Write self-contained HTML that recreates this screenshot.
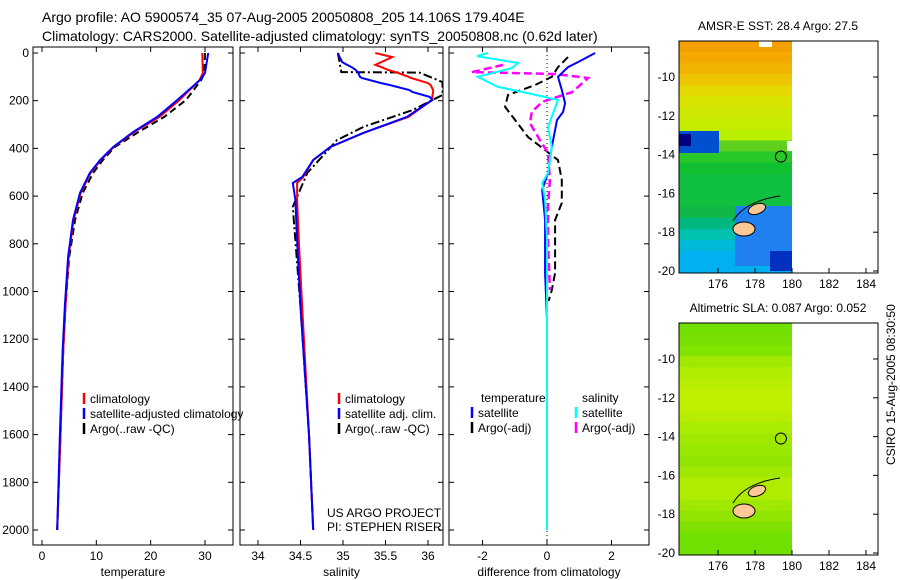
<!DOCTYPE html>
<html><head><meta charset="utf-8"><style>
body{margin:0;background:#fff}
svg{display:block;font-family:"Liberation Sans",sans-serif}
</style></head><body>
<svg id="c" width="900" height="580" xmlns="http://www.w3.org/2000/svg">
<rect width="900" height="580" fill="#fff"/>
<text x="42" y="22" font-size="14">Argo profile: AO 5900574_35 07-Aug-2005 20050808_205 14.106S 179.404E</text>
<text x="42" y="41" font-size="14">Climatology: CARS2000. Satellite-adjusted climatology: synTS_20050808.nc (0.62d later)</text>
<g id="panels"></g>
<g id="maps"></g>
<text transform="translate(895,465) rotate(-90)" font-size="12">CSIRO 15-Aug-2005 08:30:50</text>
</svg>
<script>
const NS="http://www.w3.org/2000/svg";
const depthTicks=[0,200,400,600,800,1000,1200,1400,1600,1800,2000];
const tempTicks=[0,10,20,30];
const salTicks=[34,34.5,35,35.5,36];
const diffTicks=[-2,0,2];
// temperature profiles: depth, value
const tDepth=[0,84,113,197,268,331,394,449,503,587,700,855,1065,1250,1600,2000];
const tClim=[29.5,29.6,29.0,25.3,21.6,17.0,13.2,10.8,8.9,7.1,5.8,4.9,4.3,3.9,3.4,2.8];
const tSat=[30.6,30.0,29.1,24.9,21.2,16.8,13.1,10.7,8.8,7.0,5.7,4.8,4.2,3.8,3.3,2.8];
const tArgo=[30.0,29.9,29.3,26.5,22.5,17.8,13.4,11.2,9.4,7.5,6.1,5.0,4.3,3.9,3.4,2.8];
const sDepth=[0,17,38,50,59,71,84,100,105,126,134,155,164,184,197,268,335,394,449,520,545,616,784,1065,1600,2000];
const sClim=[35.38,35.58,35.45,35.38,35.45,35.53,35.65,35.77,35.8,36.0,36.03,36.06,36.06,36.05,36.05,35.77,35.24,34.85,34.65,34.53,34.46,34.46,34.48,34.52,34.6,34.65];
const sSat=[34.94,34.96,34.99,35.05,35.1,35.15,35.18,35.2,35.22,35.45,35.55,35.78,35.82,36.02,36.05,35.75,35.24,34.85,34.65,34.52,34.41,34.44,34.46,34.5,34.6,34.65];
const sArgoDepth=[0,80,82,122,176,239,310,365,503,645,1065,1600,2000];
const sArgo=[34.94,34.98,35.9,36.17,36.17,35.82,35.24,34.93,34.58,34.41,34.5,34.6,34.65];
const dTSatDepth=[0,38,59,100,155,210,247,281,394,503,574,700,922,1119,1500,2000];
const dTSat=[1.49,0.96,0.65,0.34,0.46,0.56,0.5,0.31,0.15,0.03,-0.15,-0.06,-0.06,0,0,0];
const dSSatDepth=[0,13,42,63,100,142,168,197,252,310,394,503,545,616,784,1200,2000];
const dSSat=[-1.83,-2.17,-0.9,-1.09,-2.15,-1.52,-0.59,0.34,0.19,0.03,0.15,0.03,-0.15,-0.06,0,0,0];
const dSArgoDepth=[50,80,88,105,164,205,247,294,365,419,532,645,784,994];
const dSArgo=[-1.36,-2.33,0.25,1.27,0.78,-0.15,-0.47,-0.53,-0.22,0.03,0.09,0.03,0.03,0.09];
const dTArgoDepth=[17,59,100,134,176,226,281,352,407,449,532,629,700,922,994,1040];
const dTArgo=[0.65,0.34,0.15,-0.37,-1.21,-1.3,-0.99,-0.59,-0.06,0.34,0.46,0.46,0.25,0.25,0.15,0.05];

const yD=d=>53+d*0.2385;
function el(tag,attrs,parent){const e=document.createElementNS(NS,tag);for(const k in attrs)e.setAttribute(k,attrs[k]);parent.appendChild(e);return e;}
const P=document.getElementById('panels');
function panel(name,x0,x1,xs,xticks,xlabel,showY){
  const g=el('g',{},P);
  
  
  const fr=el('rect',{x:x0,y:47,width:x1-x0,height:498,fill:'none',stroke:'#000','stroke-width':1},g);
  
  
  depthTicks.forEach(d=>{
    el('line',{x1:x0,x2:x0+5,y1:yD(d),y2:yD(d),stroke:'#000'},g);
    el('line',{x1:x1-5,x2:x1,y1:yD(d),y2:yD(d),stroke:'#000'},g);
    if(showY){const t=el('text',{x:x0-4,y:yD(d)+4,'font-size':12,'text-anchor':'end'},g);t.textContent=d;
      
      }
  });
  xticks.forEach(v=>{
    el('line',{x1:xs(v),x2:xs(v),y1:545,y2:540,stroke:'#000'},g);
    el('line',{x1:xs(v),x2:xs(v),y1:47,y2:52,stroke:'#000'},g);
    const t=el('text',{x:xs(v),y:560,'font-size':12,'text-anchor':'middle'},g);t.textContent=v;
    
    
  });
  const l=el('text',{x:(x0+x1)/2,y:576,'font-size':12,'text-anchor':'middle'},g);l.textContent=xlabel;
  
  
  const cp=el('clipPath',{id:'cp'+name},g);el('rect',{x:x0,y:47,width:x1-x0,height:498},cp);
  return g;
}
function line(g,name,xs,vals,depths,color,dash,w,clip){
  const p=el('path',{d:vals.map((v,i)=>(i?'L':'M')+xs(v).toFixed(1)+','+yD(depths[i]).toFixed(1)).join(''),fill:'none',stroke:color,'stroke-width':w||2,'stroke-dasharray':dash||'none','clip-path':'url(#cp'+clip+')'},g);
  
  
}
function legend(g,x,y,items){
  items.forEach((it,i)=>{
    el('line',{x1:x,x2:x,y1:y+i*15-9,y2:y+i*15+2,stroke:it[1],'stroke-width':2.5},g);
    const t=el('text',{x:x+6,y:y+i*15+1,'font-size':12},g);t.textContent=it[0];
    
    
  });
}
// temperature
const xT=v=>42+v*5.433;
const g1=panel('temperature-panel',33,233,xT,tempTicks,'temperature',true);
line(g1,'temp-argo',xT,tArgo,tDepth,'#000','7,4',2,'temperature-panel');
line(g1,'temp-climatology',xT,tClim,tDepth,'#f00',null,2,'temperature-panel');
line(g1,'temp-satellite',xT,tSat,tDepth,'#00f',null,2,'temperature-panel');
legend(g1,84,402,[['climatology','#f00'],['satellite-adjusted climatology','#00f'],['Argo(..raw -QC)','#000']]);
// salinity
const xS=v=>258+(v-34)*85;
const g2=panel('salinity-panel',240,443,xS,salTicks,'salinity',false);
line(g2,'sal-argo',xS,sArgo,sArgoDepth,'#000','9,3,2,3',2,'salinity-panel');
line(g2,'sal-climatology',xS,sClim,sDepth,'#f00',null,2,'salinity-panel');
line(g2,'sal-satellite',xS,sSat,sDepth,'#00f',null,2,'salinity-panel');
legend(g2,339,402,[['climatology','#f00'],['satellite adj. clim.','#00f'],['Argo(..raw -QC)','#000']]);
{const t=el('text',{x:327,y:517,'font-size':12},g2);t.textContent='US ARGO PROJECT';
 const t2=el('text',{x:327,y:531,'font-size':12},g2);t2.textContent='PI: STEPHEN RISER';}
// difference
const xDf=v=>547+v*32.25;
const g3=panel('difference-panel',449,649,xDf,diffTicks,'difference from climatology',false);
el('line',{x1:547,x2:547,y1:47,y2:545,stroke:'#000','stroke-dasharray':'1,3'},g3);
line(g3,'diff-temp-argo',xDf,dTArgo,dTArgoDepth,'#000','8,4',2,'difference-panel');
line(g3,'diff-sal-argo',xDf,dSArgo,dSArgoDepth,'#f0f','8,4',2.5,'difference-panel');
line(g3,'diff-temp-satellite',xDf,dTSat,dTSatDepth,'#00f',null,2,'difference-panel');
line(g3,'diff-sal-satellite',xDf,dSSat,dSSatDepth,'#0ff',null,2,'difference-panel');
{const t=el('text',{x:481,y:402,'font-size':12},g3);t.textContent='temperature';
 const t2=el('text',{x:582,y:402,'font-size':12},g3);t2.textContent='salinity';}
legend(g3,472,416,[['satellite','#00f'],['Argo(-adj)','#000']]);
legend(g3,576,416,[['satellite','#0ff'],['Argo(-adj)','#f0f']]);

// maps
const M=document.getElementById('maps');
const latTicks=[-10,-12,-14,-16,-18,-20];
const lonTicks=[176,178,180,182,184];
const sstRows=['#f2a000','#f4a800','#f0b400','#eec400','#e4d800','#d8e400','#cce800','#c8ec00','#b8f000','#60d020','#28c828','#10c030','#10c040','#10c040','#10c040','#10b848','#00b880','#00c0b0','#00b8d8','#00b0f0','#00b0f0'];
const slaRows=['#70e000','#78e000','#80e400','#a0e800','#b0ec00','#b8ec00','#c0f000','#c0f000','#b8ec00','#a8ec00','#a0e800','#98e800','#90e400','#a0e800','#b0ec00','#b0ec00','#a0e800','#90e400','#80e000','#70e000','#70e000'];
function map(name,top,title,rows,sst){
  const g=el('g',{},M);
  
  
  const yL=l=>top+36+(-l-10)*19.4, xL=l=>718+(l-176)*18.5;
  const h=(273-41)/rows.length;
  rows.forEach((c,i)=>el('rect',{x:679,y:top+h*i,width:113,height:h+0.5,fill:c},g));
  if(sst){
    el('rect',{x:679,y:top+90,width:40,height:22,fill:'#0050d0'},g);
    el('rect',{x:679,y:top+93,width:12,height:12,fill:'#000080'},g);
    el('rect',{x:735,y:top+165,width:57,height:60,fill:'#2080f0'},g);
    el('rect',{x:770,y:top+210,width:22,height:20,fill:'#0030c0'},g);
    el('rect',{x:759,y:top,width:13,height:6,fill:'#fff'},g);
    el('rect',{x:787,y:top+100,width:5,height:10,fill:'#fff'},g);
  }
  el('ellipse',{cx:757,cy:top+168,rx:9,ry:5,fill:'#fdc896',stroke:'#000',transform:'rotate(-20 757 '+(top+168)+')'},g);
  el('ellipse',{cx:744,cy:top+188,rx:11,ry:7,fill:'#fdc896',stroke:'#000'},g);
  el('path',{d:`M733 ${top+180} Q745 ${top+160} 780 ${top+155}`,fill:'none',stroke:'#000'},g);
  el('circle',{cx:xL(179.4),cy:yL(-14.1),r:5.5,fill:'none',stroke:'#000'},g);
  const fr=el('rect',{x:679,y:top,width:199,height:232,fill:'none',stroke:'#000'},g);
  
  
  latTicks.forEach(l=>{el('line',{x1:873,x2:878,y1:yL(l),y2:yL(l),stroke:'#000'},g);
    const t=el('text',{x:675,y:yL(l)+4,'font-size':12,'text-anchor':'end'},g);t.textContent=l;
    });
  lonTicks.forEach(l=>{el('line',{x1:xL(l),x2:xL(l),y1:top+232,y2:top+227,stroke:'#000'},g);
    const t=el('text',{x:xL(l),y:top+247,'font-size':12,'text-anchor':'middle'},g);t.textContent=l;
    });
  const t=el('text',{x:778,y:top-11,'font-size':12,'text-anchor':'middle'},g);t.textContent=title;
  
}
map('sst-map',41,'AMSR-E SST: 28.4 Argo: 27.5',sstRows,true);
map('sla-map',323,'Altimetric SLA: 0.087 Argo: 0.052',slaRows,false);
</script>
</body></html>
